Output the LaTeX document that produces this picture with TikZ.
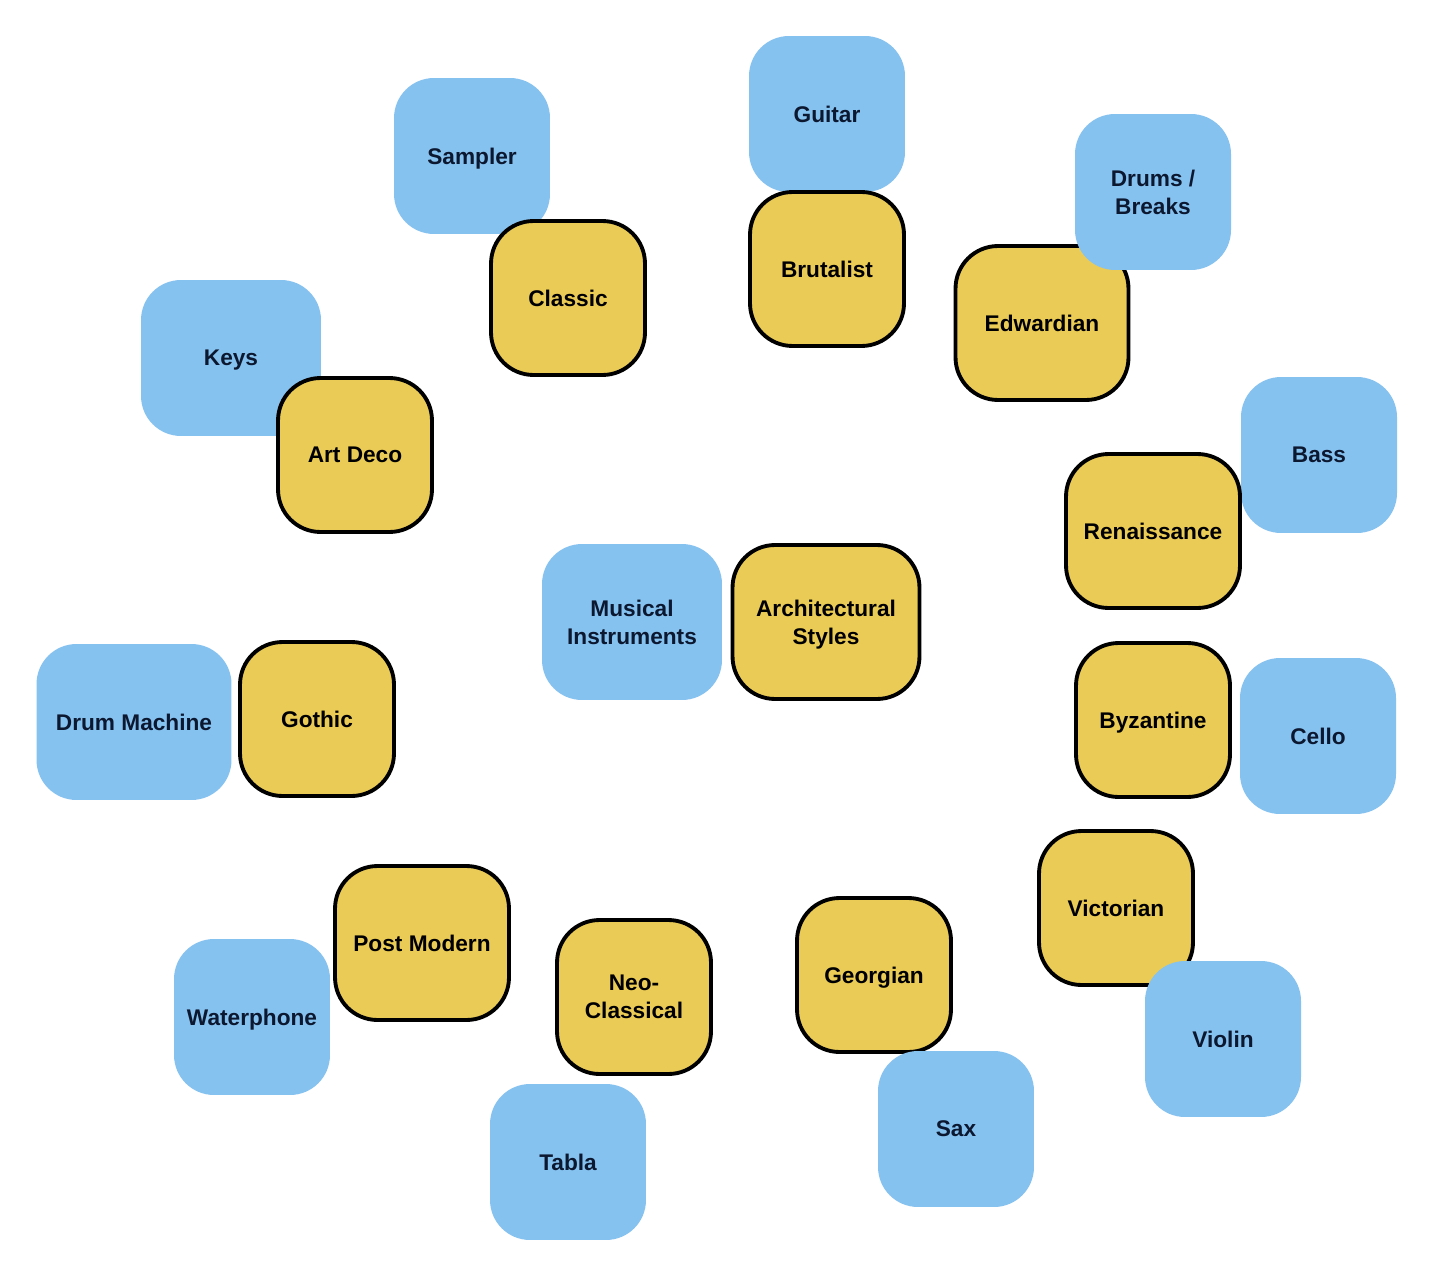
\documentclass[tikz,border=0pt]{standalone}
\usepackage{fontspec}
\setmainfont{Liberation Sans}
\definecolor{instblue}{HTML}{86C2F0}
\definecolor{styleyellow}{HTML}{EACB55}
\definecolor{navytext}{HTML}{0C1830}
\begin{document}
\begin{tikzpicture}[x=0.02cm,y=-0.02cm,
  inst/.style={fill=instblue, draw=none, rounded corners=0.8cm,
    minimum width=3.12cm, minimum height=3.12cm, align=center, text depth=0pt,
    font=\fontsize{12.9}{15.9}\selectfont\bfseries, text=navytext, inner sep=0pt},
  stylebox/.style={fill=styleyellow, draw=black, line width=2.2pt, rounded corners=0.85cm,
    minimum width=3.08cm, minimum height=3.08cm, align=center, text depth=0pt,
    font=\fontsize{12.9}{15.9}\selectfont\bfseries, text=black, inner sep=0pt}]
\useasboundingbox (0,0) rectangle (1433,1277);
\fill[white] (0,0) rectangle (1433,1277);
% top-left pairs
\node[inst] (sampler) at (472,156) {Sampler};
\node[stylebox] (classic) at (568,298) {Classic};
\node[inst] (guitar) at (827,114) {Guitar};
\node[stylebox] (brutalist) at (827,269) {Brutalist};
\node[stylebox, minimum width=3.46cm] (edwardian) at (1042,323) {Edwardian};
\node[inst] (drums) at (1153,192) {Drums /\\Breaks};
\node[inst, minimum width=3.6cm] (keys) at (231,358) {Keys};
\node[stylebox] (artdeco) at (355,455) {Art Deco};
\node[inst] (bass) at (1319,455) {Bass};
\node[stylebox, minimum width=3.48cm] (renaissance) at (1153,531) {Renaissance};
% centre
\node[inst, minimum width=3.6cm] (musical) at (632,622) {Musical\\Instruments};
\node[stylebox, minimum width=3.74cm] (arch) at (826,622) {Architectural\\Styles};
% middle row
\node[inst, minimum width=3.9cm] (drummachine) at (134,722) {Drum Machine};
\node[stylebox] (gothic) at (317,719) {Gothic};
\node[stylebox] (byzantine) at (1153,720) {Byzantine};
\node[inst] (cello) at (1318,736) {Cello};
% bottom
\node[stylebox] (victorian) at (1116,908) {Victorian};
\node[inst] (violin) at (1223,1039) {Violin};
\node[stylebox] (georgian) at (874,975) {Georgian};
\node[inst] (sax) at (956,1129) {Sax};
\node[stylebox] (neo) at (634,997) {Neo-\\Classical};
\node[inst] (tabla) at (568,1162) {Tabla};
\node[inst] (waterphone) at (252,1017) {Waterphone};
\node[stylebox, minimum width=3.48cm] (postmodern) at (422,943) {Post Modern};
\end{tikzpicture}
\end{document}
